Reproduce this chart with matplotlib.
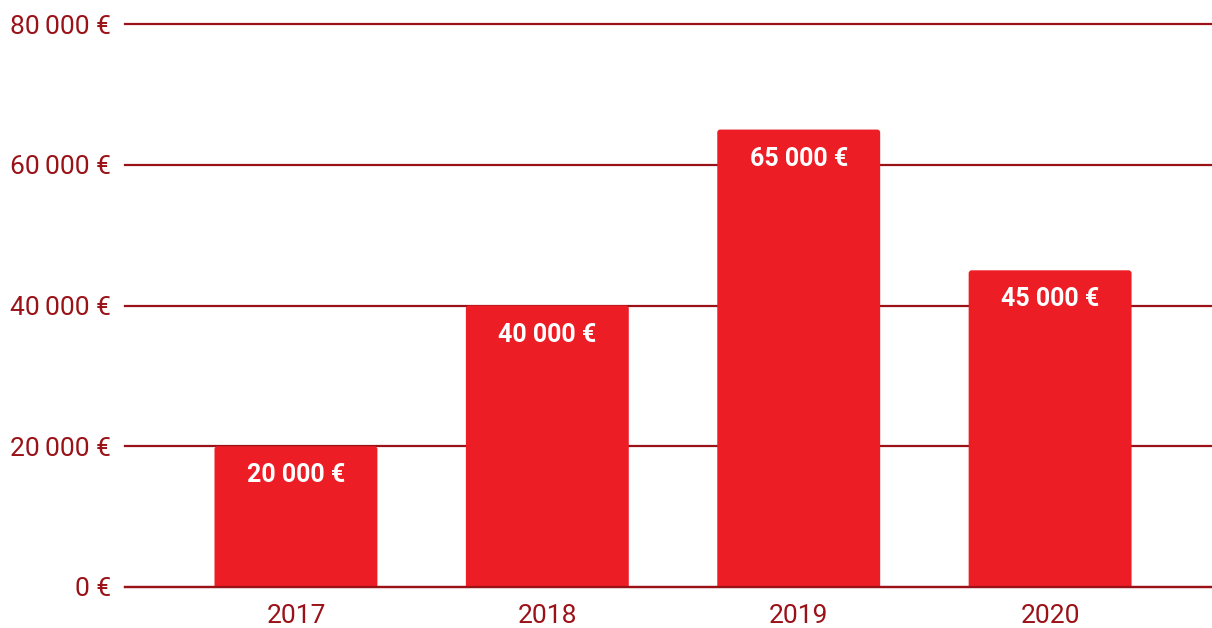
import matplotlib
matplotlib.use("Agg")
import matplotlib.pyplot as plt
from matplotlib.patches import FancyBboxPatch
from matplotlib.ticker import FuncFormatter

years = ["2017", "2018", "2019", "2020"]
values = [20000, 40000, 65000, 45000]
yticks = [0, 20000, 40000, 60000, 80000]

BAR = "#ed1d25"
DARK = "#9a1218"

plt.rcParams['font.family'] = ['Roboto', 'DejaVu Sans']

fig = plt.figure(figsize=(12.12, 6.28), dpi=100)
ax = fig.add_axes([125/1212, 41/628, 1 - 125/1212, (587-24)/628])

def fmt(v):
    s = f"{int(v):,}".replace(",", "\u202f")
    return s + "\u00a0€"

ax.set_xlim(-0.68, 3.644)
ax.set_ylim(0, 80000)

x = list(range(len(years)))
bars = ax.bar(x, values, width=0.648, color=BAR, zorder=3)

# rounded corners: replace rectangles with rounded boxes of the same geometry
bbox = ax.get_window_extent()
px_x = (3.644 + 0.68) / bbox.width
px_y = 80000 / bbox.height
r = 3 * px_x
for b in bars:
    bx, by, bw, bh = b.get_x(), b.get_y(), b.get_width(), b.get_height()
    b.set_visible(False)
    p = FancyBboxPatch((bx + r, by), bw - 2 * r, bh - r * px_y / px_x,
                       boxstyle=f"round,pad={r},rounding_size={r}",
                       mutation_aspect=px_y / px_x,
                       facecolor=BAR, edgecolor="none", zorder=3)
    ax.add_patch(p)

for xi, v in zip(x, values):
    ax.annotate(fmt(v), (xi, v), xytext=(0, -29), textcoords="offset pixels",
                ha="center", va="center", color="white", fontsize=18, fontweight="bold", zorder=4)

ax.set_yticks(yticks)
ax.yaxis.set_major_formatter(FuncFormatter(lambda v, p: fmt(v)))
ax.set_xticks(x)
ax.set_xticklabels(years)
ax.grid(axis="y", color=DARK, linewidth=1.6, zorder=4)
ax.set_axisbelow(False)
ax.tick_params(axis="both", length=0, labelsize=19, labelcolor=DARK)
ax.tick_params(axis="y", pad=10)
ax.tick_params(axis="x", pad=12)
for s in ax.spines.values():
    s.set_visible(False)
for line in ax.get_ygridlines():
    line.set_clip_on(False)
    line.set_zorder(1)
ax.axhline(0, color=DARK, linewidth=1.6, zorder=5, clip_on=False)

fig.savefig("out.png", dpi=100)
